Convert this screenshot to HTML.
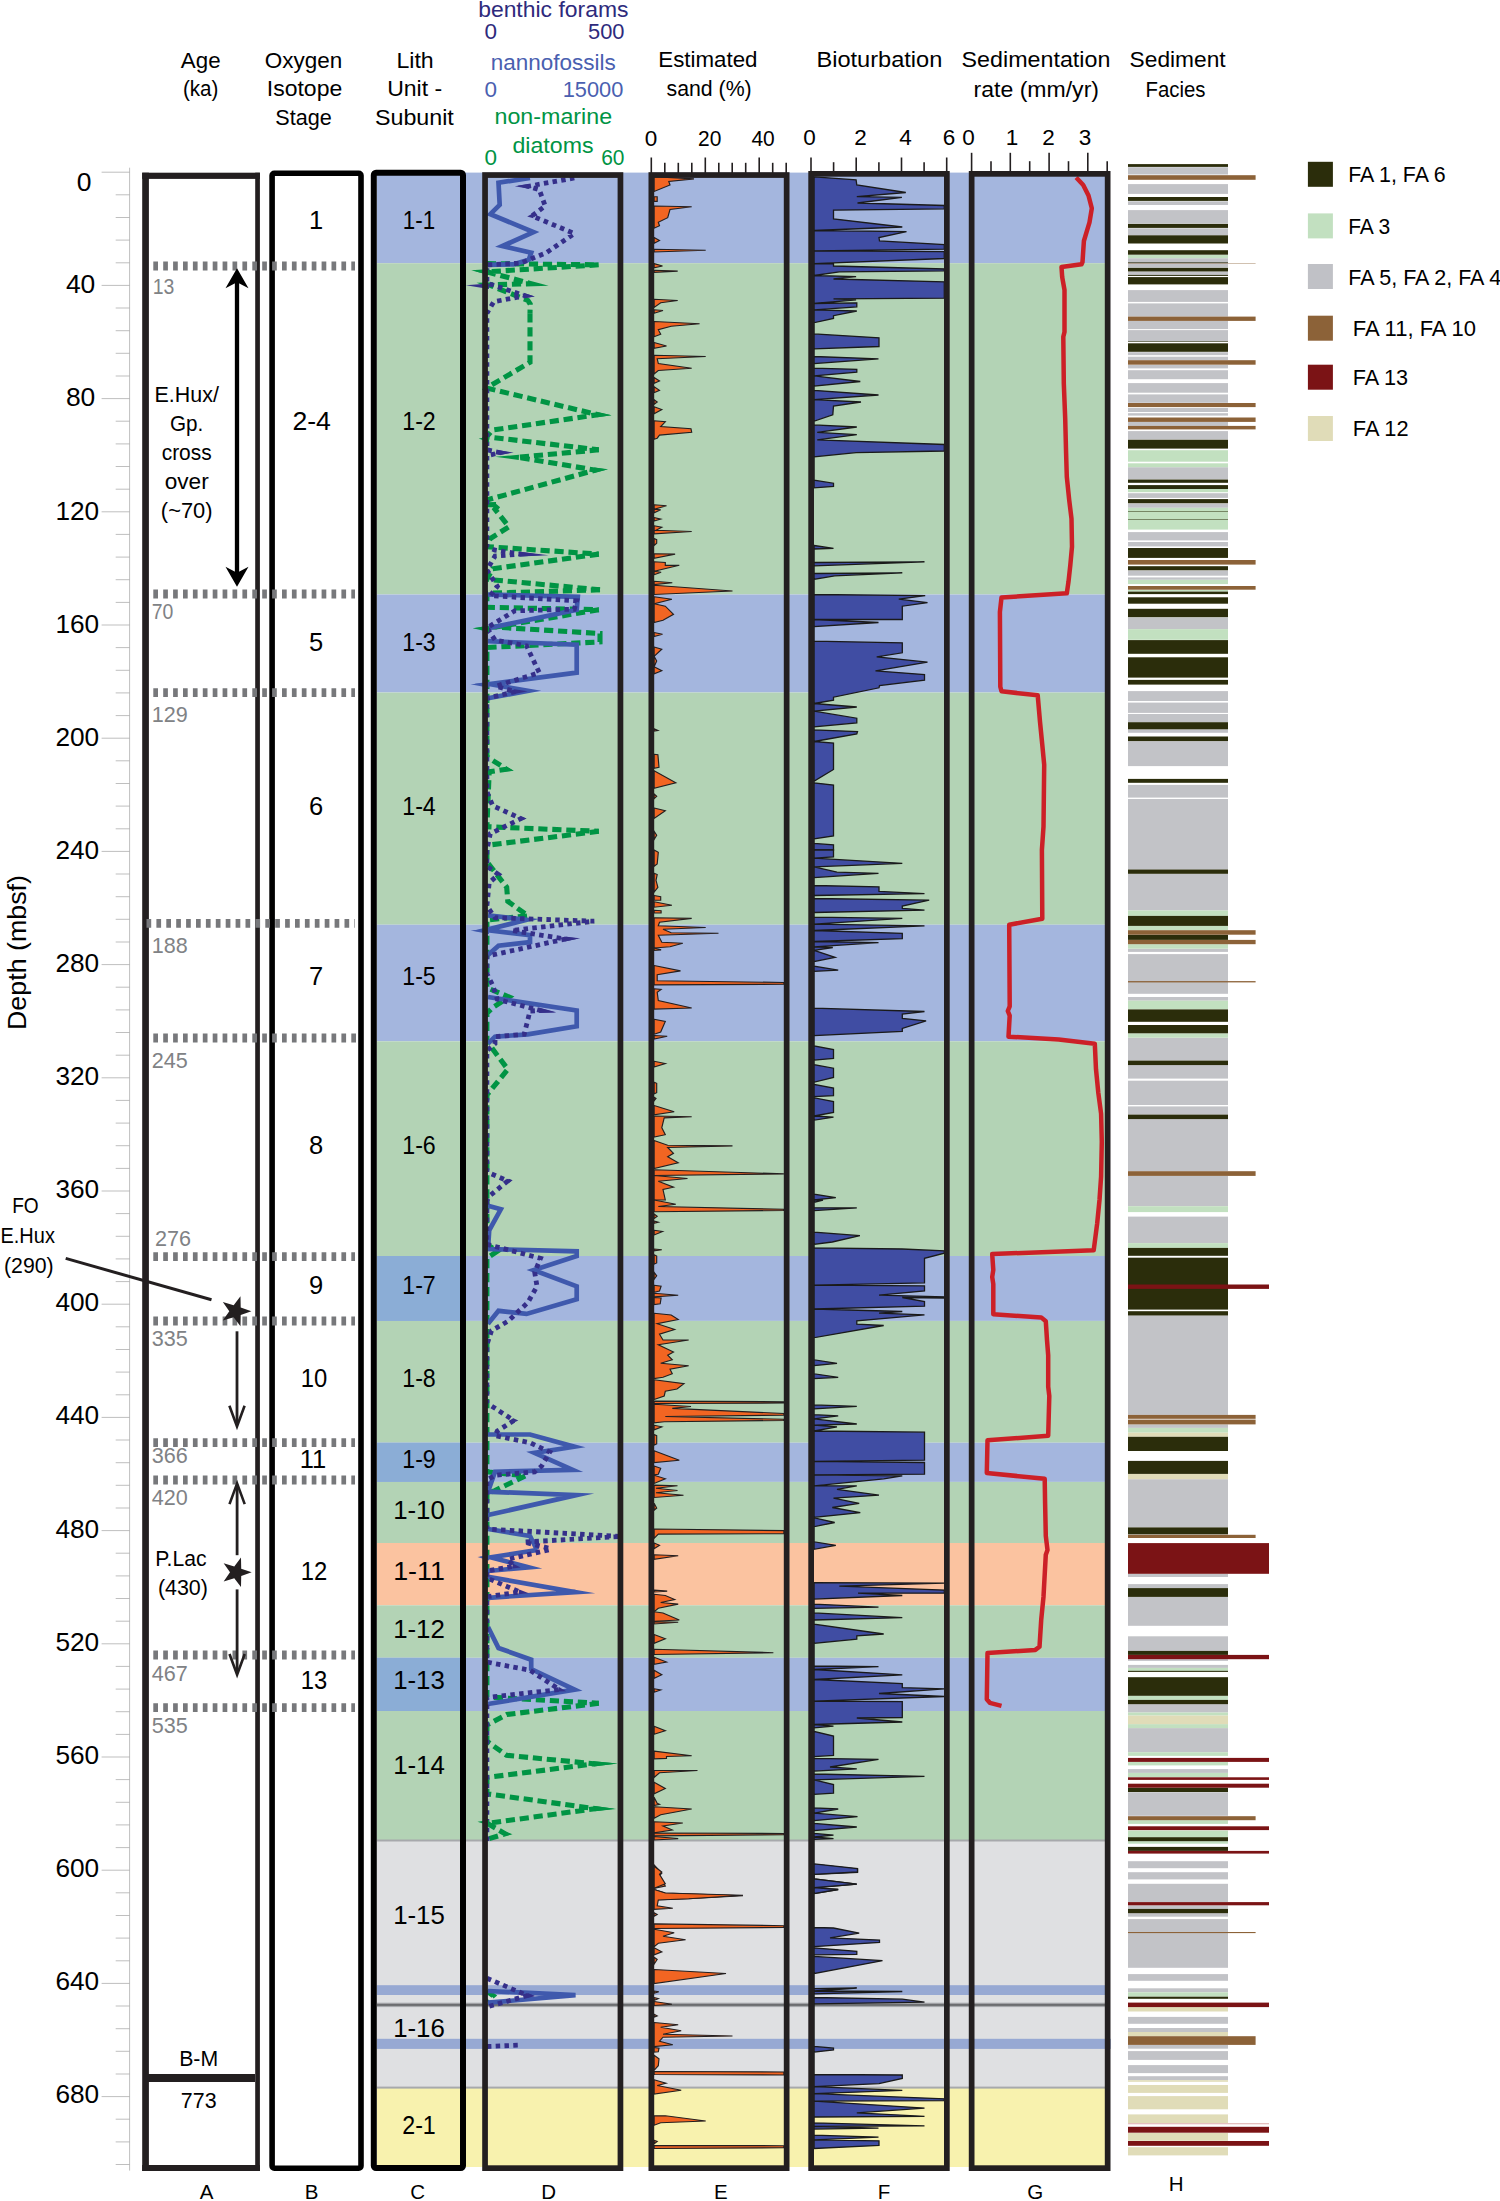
<!DOCTYPE html>
<html><head><meta charset="utf-8"><title>Stratigraphic summary</title>
<style>html,body{margin:0;padding:0;background:#fff}svg{display:block}</style></head>
<body>
<svg width="1500" height="2201" viewBox="0 0 1500 2201" font-family='"Liberation Sans", sans-serif'>
<rect width="1500" height="2201" fill="#fff"/>
<rect x="377" y="172.6" width="730.7" height="90.6" fill="#a4b6de"/>
<rect x="377" y="263.2" width="730.7" height="331.3" fill="#b3d3b5"/>
<rect x="377" y="594.5" width="730.7" height="98.0" fill="#a4b6de"/>
<rect x="377" y="692.5" width="730.7" height="232.2" fill="#b3d3b5"/>
<rect x="377" y="924.7" width="730.7" height="116.6" fill="#a4b6de"/>
<rect x="377" y="1041.3" width="730.7" height="214.7" fill="#b3d3b5"/>
<rect x="377" y="1256" width="730.7" height="64.9" fill="#a4b6de"/>
<rect x="377" y="1320.9" width="730.7" height="121.8" fill="#b3d3b5"/>
<rect x="377" y="1442.7" width="730.7" height="39.2" fill="#a4b6de"/>
<rect x="377" y="1481.9" width="730.7" height="61.1" fill="#b3d3b5"/>
<rect x="377" y="1543" width="730.7" height="62.3" fill="#fbc3a0"/>
<rect x="377" y="1605.3" width="730.7" height="52.5" fill="#b3d3b5"/>
<rect x="377" y="1657.8" width="730.7" height="53.2" fill="#a4b6de"/>
<rect x="377" y="1711" width="730.7" height="129" fill="#b3d3b5"/>
<rect x="377" y="1840" width="730.7" height="247.8" fill="#dfe0e2"/>
<rect x="377" y="2087.8" width="730.7" height="79.2" fill="#f8f2ae"/>
<rect x="377" y="1256" width="84" height="64.9" fill="#8badd6"/>
<rect x="377" y="1442.7" width="84" height="39.2" fill="#8badd6"/>
<rect x="377" y="1657.8" width="84" height="53.2" fill="#8badd6"/>
<rect x="377" y="1839.5" width="730.7" height="2" fill="#a7a9ac"/>
<rect x="377" y="1985.2" width="730.7" height="9.8" fill="#97a9d3"/>
<rect x="377" y="2038.8" width="733.7" height="10.1" fill="#97a9d3"/>
<rect x="377" y="2002.7" width="730.7" height="4.4" fill="#a7a9ac"/>
<rect x="377" y="2003.9" width="730.7" height="2" fill="#6d6e71"/>
<rect x="377" y="2086.6" width="730.7" height="2" fill="#a7a9ac"/>
<g stroke="#a3a3a3" stroke-width="0.7" fill="none">
<line x1="129.6" y1="167.7" x2="129.6" y2="2170.6"/>
<line x1="101.6" y1="172.2" x2="129.6" y2="172.2"/>
<line x1="115.7" y1="194.8" x2="129.6" y2="194.8"/>
<line x1="115.7" y1="217.5" x2="129.6" y2="217.5"/>
<line x1="115.7" y1="240.1" x2="129.6" y2="240.1"/>
<line x1="115.7" y1="262.8" x2="129.6" y2="262.8"/>
<line x1="101.6" y1="285.4" x2="129.6" y2="285.4"/>
<line x1="115.7" y1="308.0" x2="129.6" y2="308.0"/>
<line x1="115.7" y1="330.7" x2="129.6" y2="330.7"/>
<line x1="115.7" y1="353.3" x2="129.6" y2="353.3"/>
<line x1="115.7" y1="376.0" x2="129.6" y2="376.0"/>
<line x1="101.6" y1="398.6" x2="129.6" y2="398.6"/>
<line x1="115.7" y1="421.2" x2="129.6" y2="421.2"/>
<line x1="115.7" y1="443.9" x2="129.6" y2="443.9"/>
<line x1="115.7" y1="466.5" x2="129.6" y2="466.5"/>
<line x1="115.7" y1="489.2" x2="129.6" y2="489.2"/>
<line x1="101.6" y1="511.8" x2="129.6" y2="511.8"/>
<line x1="115.7" y1="534.4" x2="129.6" y2="534.4"/>
<line x1="115.7" y1="557.1" x2="129.6" y2="557.1"/>
<line x1="115.7" y1="579.7" x2="129.6" y2="579.7"/>
<line x1="115.7" y1="602.4" x2="129.6" y2="602.4"/>
<line x1="101.6" y1="625.0" x2="129.6" y2="625.0"/>
<line x1="115.7" y1="647.6" x2="129.6" y2="647.6"/>
<line x1="115.7" y1="670.3" x2="129.6" y2="670.3"/>
<line x1="115.7" y1="692.9" x2="129.6" y2="692.9"/>
<line x1="115.7" y1="715.6" x2="129.6" y2="715.6"/>
<line x1="101.6" y1="738.2" x2="129.6" y2="738.2"/>
<line x1="115.7" y1="760.8" x2="129.6" y2="760.8"/>
<line x1="115.7" y1="783.5" x2="129.6" y2="783.5"/>
<line x1="115.7" y1="806.1" x2="129.6" y2="806.1"/>
<line x1="115.7" y1="828.8" x2="129.6" y2="828.8"/>
<line x1="101.6" y1="851.4" x2="129.6" y2="851.4"/>
<line x1="115.7" y1="874.0" x2="129.6" y2="874.0"/>
<line x1="115.7" y1="896.7" x2="129.6" y2="896.7"/>
<line x1="115.7" y1="919.3" x2="129.6" y2="919.3"/>
<line x1="115.7" y1="942.0" x2="129.6" y2="942.0"/>
<line x1="101.6" y1="964.6" x2="129.6" y2="964.6"/>
<line x1="115.7" y1="987.2" x2="129.6" y2="987.2"/>
<line x1="115.7" y1="1009.9" x2="129.6" y2="1009.9"/>
<line x1="115.7" y1="1032.5" x2="129.6" y2="1032.5"/>
<line x1="115.7" y1="1055.2" x2="129.6" y2="1055.2"/>
<line x1="101.6" y1="1077.8" x2="129.6" y2="1077.8"/>
<line x1="115.7" y1="1100.4" x2="129.6" y2="1100.4"/>
<line x1="115.7" y1="1123.1" x2="129.6" y2="1123.1"/>
<line x1="115.7" y1="1145.7" x2="129.6" y2="1145.7"/>
<line x1="115.7" y1="1168.4" x2="129.6" y2="1168.4"/>
<line x1="101.6" y1="1191.0" x2="129.6" y2="1191.0"/>
<line x1="115.7" y1="1213.6" x2="129.6" y2="1213.6"/>
<line x1="115.7" y1="1236.3" x2="129.6" y2="1236.3"/>
<line x1="115.7" y1="1258.9" x2="129.6" y2="1258.9"/>
<line x1="115.7" y1="1281.6" x2="129.6" y2="1281.6"/>
<line x1="101.6" y1="1304.2" x2="129.6" y2="1304.2"/>
<line x1="115.7" y1="1326.8" x2="129.6" y2="1326.8"/>
<line x1="115.7" y1="1349.5" x2="129.6" y2="1349.5"/>
<line x1="115.7" y1="1372.1" x2="129.6" y2="1372.1"/>
<line x1="115.7" y1="1394.8" x2="129.6" y2="1394.8"/>
<line x1="101.6" y1="1417.4" x2="129.6" y2="1417.4"/>
<line x1="115.7" y1="1440.0" x2="129.6" y2="1440.0"/>
<line x1="115.7" y1="1462.7" x2="129.6" y2="1462.7"/>
<line x1="115.7" y1="1485.3" x2="129.6" y2="1485.3"/>
<line x1="115.7" y1="1508.0" x2="129.6" y2="1508.0"/>
<line x1="101.6" y1="1530.6" x2="129.6" y2="1530.6"/>
<line x1="115.7" y1="1553.2" x2="129.6" y2="1553.2"/>
<line x1="115.7" y1="1575.9" x2="129.6" y2="1575.9"/>
<line x1="115.7" y1="1598.5" x2="129.6" y2="1598.5"/>
<line x1="115.7" y1="1621.2" x2="129.6" y2="1621.2"/>
<line x1="101.6" y1="1643.8" x2="129.6" y2="1643.8"/>
<line x1="115.7" y1="1666.4" x2="129.6" y2="1666.4"/>
<line x1="115.7" y1="1689.1" x2="129.6" y2="1689.1"/>
<line x1="115.7" y1="1711.7" x2="129.6" y2="1711.7"/>
<line x1="115.7" y1="1734.4" x2="129.6" y2="1734.4"/>
<line x1="101.6" y1="1757.0" x2="129.6" y2="1757.0"/>
<line x1="115.7" y1="1779.6" x2="129.6" y2="1779.6"/>
<line x1="115.7" y1="1802.3" x2="129.6" y2="1802.3"/>
<line x1="115.7" y1="1824.9" x2="129.6" y2="1824.9"/>
<line x1="115.7" y1="1847.6" x2="129.6" y2="1847.6"/>
<line x1="101.6" y1="1870.2" x2="129.6" y2="1870.2"/>
<line x1="115.7" y1="1892.8" x2="129.6" y2="1892.8"/>
<line x1="115.7" y1="1915.5" x2="129.6" y2="1915.5"/>
<line x1="115.7" y1="1938.1" x2="129.6" y2="1938.1"/>
<line x1="115.7" y1="1960.8" x2="129.6" y2="1960.8"/>
<line x1="101.6" y1="1983.4" x2="129.6" y2="1983.4"/>
<line x1="115.7" y1="2006.0" x2="129.6" y2="2006.0"/>
<line x1="115.7" y1="2028.7" x2="129.6" y2="2028.7"/>
<line x1="115.7" y1="2051.3" x2="129.6" y2="2051.3"/>
<line x1="115.7" y1="2074.0" x2="129.6" y2="2074.0"/>
<line x1="101.6" y1="2096.6" x2="129.6" y2="2096.6"/>
<line x1="115.7" y1="2119.2" x2="129.6" y2="2119.2"/>
<line x1="115.7" y1="2141.9" x2="129.6" y2="2141.9"/>
<line x1="115.7" y1="2164.5" x2="129.6" y2="2164.5"/>
</g>
<text x="91.5" y="191" font-size="26.5" text-anchor="end" fill="#000" >0</text>
<text x="95.3" y="293.3" font-size="26.5" text-anchor="end" fill="#000" textLength="29.4" lengthAdjust="spacingAndGlyphs" >40</text>
<text x="95.3" y="406.4" font-size="26.5" text-anchor="end" fill="#000" textLength="29.4" lengthAdjust="spacingAndGlyphs" >80</text>
<text x="99.2" y="519.5" font-size="26.5" text-anchor="end" fill="#000" textLength="43.8" lengthAdjust="spacingAndGlyphs" >120</text>
<text x="99.2" y="632.6" font-size="26.5" text-anchor="end" fill="#000" textLength="43.8" lengthAdjust="spacingAndGlyphs" >160</text>
<text x="99.2" y="745.8" font-size="26.5" text-anchor="end" fill="#000" textLength="43.8" lengthAdjust="spacingAndGlyphs" >200</text>
<text x="99.2" y="858.9" font-size="26.5" text-anchor="end" fill="#000" textLength="43.8" lengthAdjust="spacingAndGlyphs" >240</text>
<text x="99.2" y="972.0" font-size="26.5" text-anchor="end" fill="#000" textLength="43.8" lengthAdjust="spacingAndGlyphs" >280</text>
<text x="99.2" y="1085.1" font-size="26.5" text-anchor="end" fill="#000" textLength="43.8" lengthAdjust="spacingAndGlyphs" >320</text>
<text x="99.2" y="1198.2" font-size="26.5" text-anchor="end" fill="#000" textLength="43.8" lengthAdjust="spacingAndGlyphs" >360</text>
<text x="99.2" y="1311.3" font-size="26.5" text-anchor="end" fill="#000" textLength="43.8" lengthAdjust="spacingAndGlyphs" >400</text>
<text x="99.2" y="1424.4" font-size="26.5" text-anchor="end" fill="#000" textLength="43.8" lengthAdjust="spacingAndGlyphs" >440</text>
<text x="99.2" y="1537.5" font-size="26.5" text-anchor="end" fill="#000" textLength="43.8" lengthAdjust="spacingAndGlyphs" >480</text>
<text x="99.2" y="1650.7" font-size="26.5" text-anchor="end" fill="#000" textLength="43.8" lengthAdjust="spacingAndGlyphs" >520</text>
<text x="99.2" y="1763.8" font-size="26.5" text-anchor="end" fill="#000" textLength="43.8" lengthAdjust="spacingAndGlyphs" >560</text>
<text x="99.2" y="1876.9" font-size="26.5" text-anchor="end" fill="#000" textLength="43.8" lengthAdjust="spacingAndGlyphs" >600</text>
<text x="99.2" y="1990.0" font-size="26.5" text-anchor="end" fill="#000" textLength="43.8" lengthAdjust="spacingAndGlyphs" >640</text>
<text x="99.2" y="2103.1" font-size="26.5" text-anchor="end" fill="#000" textLength="43.8" lengthAdjust="spacingAndGlyphs" >680</text>
<text transform="translate(25.5,1030) rotate(-90)" font-size="26.5" textLength="155" lengthAdjust="spacingAndGlyphs">Depth (mbsf)</text>
<g fill="none" stroke-linejoin="miter" stroke-miterlimit="12">
<polyline points="530.0,313.3 530.0,362.3 490.3,385.7 487.3,388.2 597.8,414.7 492.7,430.0 486.5,436.8 598.8,449.8" stroke="#009444" stroke-width="5.1" stroke-dasharray="9.2 4.8"/>
<polyline points="598.8,449.8 517.9,457.3 595.4,470.1 486.9,500.0" stroke="#009444" stroke-width="5.1" stroke-dasharray="9.2 4.8"/>
<polyline points="486.9,504.7 499.3,504.4 495.0,509.3 509.0,526.8 490.3,538.5 486.9,546.7 598.8,554.1" stroke="#009444" stroke-width="5.1" stroke-dasharray="9.2 4.8"/>
<polyline points="598.8,554.1 492.7,568.8 486.9,579.3 600.0,589.8" stroke="#009444" stroke-width="5.1" stroke-dasharray="9.2 4.8"/>
<polyline points="600.0,589.8 486.9,593.3 486.9,607.3 598.8,609.7" stroke="#009444" stroke-width="5.1" stroke-dasharray="9.2 4.8"/>
<polyline points="598.8,609.7 495.2,627.1 600.0,633.5 600.0,641.9 486.9,647.5 486.9,756.7 506.5,769.2 489.2,771.8 486.9,826.7 598.8,831.3" stroke="#009444" stroke-width="5.1" stroke-dasharray="9.2 4.8"/>
<polyline points="598.8,831.3 486.9,845.3" stroke="#009444" stroke-width="5.1" stroke-dasharray="9.2 4.8"/>
<polyline points="486.9,850.0 486.9,861.7 506.7,887.3 507.8,901.3 528.0,915.9 486.9,920.0 486.9,987.7 509.0,997.0 492.7,1007.5 486.9,1013.3 486.9,1041.3 507.8,1069.3 486.9,1095.0 486.9,1200.0" stroke="#009444" stroke-width="5.1" stroke-dasharray="9.2 4.8"/>
<polyline points="486.9,1200.0 486.9,1244.3 497.3,1251.3 486.9,1258.3 486.9,1471.8 525.5,1475.8 495.0,1490.5 486.9,1494.0 486.9,1550.0" stroke="#009444" stroke-width="5.1" stroke-dasharray="9.2 4.8"/>
<polyline points="486.9,1550.0 486.9,1697.0 598.8,1703.3" stroke="#009444" stroke-width="5.1" stroke-dasharray="9.2 4.8"/>
<polyline points="598.8,1703.3 506.7,1714.5 486.9,1725.0 486.9,1741.3 506.7,1755.3 594.6,1763.8 486.9,1777.5 486.9,1793.8 595.6,1808.7 487.3,1823.3 505.1,1833.8 486.9,1839.3" stroke="#009444" stroke-width="5.1" stroke-dasharray="9.2 4.8"/>
<polyline points="486.9,1991.0 493.1,1995.7 486.9,2000.8" stroke="#009444" stroke-width="5.1" stroke-dasharray="9.2 4.8"/>
<polyline points="486.9,263.6 598.8,264.8 486.9,271.8 531.2,283.7 488.9,284.9 527.9,300.5 530.2,304.0 530.0,313.3" stroke="#009444" stroke-width="5.1" stroke-dasharray="9.2 4.8"/>
<polyline points="530.0,178.0 498.5,182.7 499.7,204.8 490.3,214.2 533.5,232.1 502.4,246.1 531.2,252.7 528.8,259.7 513.7,264.3 488.0,264.8" stroke="#3f59ad" stroke-width="4.7"/>
<polyline points="488.0,594.5 577.8,596.8 576.7,609.7 488.0,628.3" stroke="#3f59ad" stroke-width="4.7"/>
<polyline points="488.0,641.2 576.7,644.7 576.7,672.7 490.0,684.1 528.1,690.8 488.0,698.3" stroke="#3f59ad" stroke-width="4.7"/>
<polyline points="488.0,915.3 526.2,919.9 485.9,930.0 530.0,935.2 530.0,942.2 498.5,945.7 488.0,955.0" stroke="#3f59ad" stroke-width="4.7"/>
<polyline points="488.0,997.0 576.7,1010.5 576.7,1026.2 527.7,1034.3 495.0,1036.7 488.0,1043.7" stroke="#3f59ad" stroke-width="4.7"/>
<polyline points="488.0,1205.8 500.8,1209.3 489.2,1230.3 488.0,1249.0 576.7,1251.3 576.7,1256.0 533.6,1270.1 576.7,1286.3 576.7,1299.2 526.5,1313.9 498.5,1310.8 488.0,1323.7" stroke="#3f59ad" stroke-width="4.7"/>
<polyline points="488.0,1434.5 530.0,1434.5 574.3,1446.7 534.5,1452.9 572.7,1469.8 495.0,1471.8 488.0,1491.7 576.2,1495.1 488.0,1515.0" stroke="#3f59ad" stroke-width="4.7"/>
<polyline points="488.0,1529.0 530.0,1536.0 537.0,1550.0" stroke="#3f59ad" stroke-width="4.7"/>
<polyline points="537.0,1550.0 490.8,1557.3 528.8,1567.3 488.0,1571.0" stroke="#3f59ad" stroke-width="4.7"/>
<polyline points="488.0,1576.8 575.5,1592.1 488.0,1597.8" stroke="#3f59ad" stroke-width="4.7"/>
<polyline points="488.0,1627.0 498.5,1648.0 531.2,1659.7 531.2,1669.0 574.7,1689.6 488.0,1704.0" stroke="#3f59ad" stroke-width="4.7"/>
<polyline points="488.0,1991.0 575.5,1995.2 488.0,2002.7" stroke="#3f59ad" stroke-width="4.7"/>
<polyline points="574.3,178.0 527.9,186.3 539.3,189.7 545.2,206.0 532.0,215.9 574.3,233.5 546.3,252.7 520.7,263.2 486.9,264.8 486.9,283.0 525.2,295.8 493.8,301.7 486.9,313.3 486.9,449.8 499.9,452.7 486.9,455.7 486.9,500.0" stroke="#352f8a" stroke-width="4.8" stroke-dasharray="4.5 4.3"/>
<polyline points="486.9,500.0 486.9,546.7 495.0,550.2 520.7,554.2 495.0,556.0 486.9,570.0 497.3,586.3 490.3,595.7 576.7,600.8 574.3,609.2 514.8,610.8 486.9,627.9 495.0,640.0 526.5,645.8 539.3,672.7 502.0,684.3 496.1,686.3 515.5,691.7 486.9,698.3 486.9,791.7 492.7,805.7 520.9,818.6 490.3,833.7 486.9,850.0" stroke="#352f8a" stroke-width="4.8" stroke-dasharray="4.5 4.3"/>
<polyline points="486.9,850.0 486.9,866.3 498.5,874.5 489.2,882.7 486.9,906.0 495.0,917.7 594.2,921.2 511.8,930.5 565.5,939.0 486.9,956.2 486.9,973.7 492.7,985.3 497.3,999.3 540.4,1010.5 530.0,1011.0 524.2,1034.3 495.0,1036.7 495.0,1043.7 486.9,1050.7 486.9,1172.0 507.9,1180.9 490.3,1195.3 486.9,1200.0" stroke="#352f8a" stroke-width="4.8" stroke-dasharray="4.5 4.3"/>
<polyline points="486.9,1200.0 486.9,1244.3 540.5,1258.3 534.7,1272.3 537.0,1286.3 527.7,1302.7 507.8,1321.3 491.5,1330.7 486.9,1344.7 486.9,1403.0 513.9,1420.5 497.3,1431.0 495.0,1435.7 530.0,1442.7 549.8,1452.0 541.7,1466.0 534.7,1471.8 495.0,1475.3 486.9,1480.0 486.9,1529.0 621.0,1536.5 524.1,1542.1 548.7,1548.1" stroke="#352f8a" stroke-width="4.8" stroke-dasharray="4.5 4.3"/>
<polyline points="548.7,1550.0 508.0,1559.2 513.7,1566.3 486.9,1571.0 486.9,1578.0 519.9,1592.0 486.9,1596.7 486.9,1662.0 492.7,1663.2 530.0,1670.2 559.3,1689.5 486.9,1697.5 486.9,1844.0" stroke="#352f8a" stroke-width="4.8" stroke-dasharray="4.5 4.3"/>
<polyline points="486.9,1978.2 527.5,1995.6 486.9,2006.9" stroke="#352f8a" stroke-width="4.8" stroke-dasharray="4.5 4.3"/>
<polyline points="486.9,2046.5 520.7,2045.1" stroke="#352f8a" stroke-width="4.8" stroke-dasharray="4.5 4.3"/>
</g>
<polygon points="611.7,415.3 596.9,412.1 596.7,417.2" fill="#009444"/>
<polygon points="495.0,456.8 518.8,459.9 519.0,454.8" fill="#009444"/>
<polygon points="608.2,469.2 594.2,467.6 594.6,472.7" fill="#009444"/>
<polygon points="513.7,770.7 506.1,766.5 505.0,771.5" fill="#009444"/>
<polygon points="617.5,1763.5 593.6,1761.3 593.6,1766.4" fill="#009444"/>
<polygon points="616.3,1809.0 594.6,1806.1 594.6,1811.2" fill="#009444"/>
<polygon points="512.5,1834.2 504.3,1831.2 504.0,1836.3" fill="#009444"/>
<polygon points="514.8,186.2 528.9,188.7 528.9,183.9" fill="#352f8a"/>
<polygon points="527.2,216.5 533.3,218.2 532.7,213.4" fill="#352f8a"/>
<polygon points="534.7,296.5 524.4,293.3 524.0,298.1" fill="#352f8a"/>
<polygon points="513.7,452.6 498.9,450.3 498.9,455.1" fill="#352f8a"/>
<polygon points="548.7,555.3 519.8,551.8 519.6,556.6" fill="#352f8a"/>
<polygon points="527.7,691.3 514.4,689.3 514.6,694.1" fill="#352f8a"/>
<polygon points="526.5,818.5 519.9,816.2 519.9,821.0" fill="#352f8a"/>
<polygon points="580.2,938.2 564.4,936.7 564.6,941.4" fill="#352f8a"/>
<polygon points="555.7,1012.6 539.7,1008.0 539.1,1012.7" fill="#352f8a"/>
<polygon points="512.5,1180.2 506.6,1178.7 507.3,1183.4" fill="#352f8a"/>
<polygon points="518.3,1420.5 512.9,1418.1 512.9,1422.9" fill="#352f8a"/>
<polygon points="520.7,1567.5 513.1,1563.8 512.3,1568.5" fill="#352f8a"/>
<polygon points="528.8,1593.2 519.2,1589.5 518.6,1594.2" fill="#352f8a"/>
<polygon points="566.2,1691.2 558.9,1686.9 557.8,1691.6" fill="#352f8a"/>
<polygon points="534.7,1996.1 526.7,1993.1 526.3,1997.9" fill="#352f8a"/>
<polygon points="475.2,271.3 489,269.6 489,275.1" fill="#009444"/>
<polygon points="465.8,285.3 489,283.6 489,288.9" fill="#352f8a"/>
<polygon points="478.7,438.6 489,436.9 489,442.4" fill="#009444"/>
<polygon points="472.8,628.3 489,626.5 489,632.0" fill="#009444"/>
<polygon points="470.5,684.3 489,682.7 489,687.8" fill="#3f59ad"/>
<polygon points="470.5,930.5 489,928.9 489,934.0" fill="#3f59ad"/>
<polygon points="477.5,1557.0 489,1555.4 489,1560.5" fill="#3f59ad"/>
<polygon points="477.5,1821.8 489,1820.0 489,1825.5" fill="#009444"/>
<g fill="#f26522" stroke="#231f20" stroke-width="1.15" stroke-linejoin="miter">
<polygon points="654.1,176.8 694.0,178.9 668.8,181.5 670.0,185.0 654.1,191.5"/>
<polygon points="654.1,196.7 657.2,196.7 657.2,201.3 654.1,201.3"/>
<polygon points="654.1,206.0 691.7,206.7 670.0,209.5 667.7,217.7 658.3,222.3 659.5,225.8 654.1,228.2"/>
<polygon points="654.1,237.5 659.5,240.5 654.1,243.3"/>
<polygon points="654.1,249.2 705.7,250.3 654.1,252.0"/>
<polygon points="654.1,263.6 662.5,266.0 654.1,267.8"/>
<polygon points="654.1,270.2 677.7,271.1 654.1,272.3"/>
<polygon points="654.1,299.3 677.7,300.5 660.7,302.8 654.1,307.5"/>
<polygon points="654.1,309.8 663.0,310.5 654.1,313.3"/>
<polygon points="654.1,321.5 699.6,323.8 671.2,326.2 658.3,329.7 660.7,334.3 654.1,336.7"/>
<polygon points="654.1,342.5 666.5,346.0 654.1,348.3"/>
<polygon points="654.1,355.3 705.7,356.5 657.2,358.8 658.3,363.5 691.7,368.2 658.3,370.5 654.1,374.0"/>
<polygon points="654.1,377.5 659.5,381.0 654.1,383.3"/>
<polygon points="654.1,386.8 659.5,390.3 654.1,392.7"/>
<polygon points="654.1,399.7 657.2,402.0 654.1,404.3"/>
<polygon points="654.1,406.7 661.8,409.5 654.1,413.7"/>
<polygon points="654.1,420.7 665.3,421.8 660.7,426.5 691.0,428.8 691.7,432.3 659.5,435.1 657.2,438.2 654.1,439.3"/>
<polygon points="654.1,504.7 666.5,505.8 654.1,509.3"/>
<polygon points="654.1,509.3 660.7,509.8 654.1,512.8"/>
<polygon points="654.1,517.5 660.7,519.1 654.1,521.0"/>
<polygon points="654.1,525.7 661.8,527.3 656.0,530.3 691.7,531.5 654.1,533.8"/>
<polygon points="654.1,538.5 656.7,539.7 656.7,543.2 654.1,545.5"/>
<polygon points="654.1,553.7 675.1,554.1 654.1,558.3"/>
<polygon points="654.1,561.8 665.3,562.5 665.3,565.3 679.3,565.3 654.1,571.2"/>
<polygon points="654.1,571.2 661.1,572.3 654.1,574.7"/>
<polygon points="654.1,581.2 672.3,582.8 654.1,584.5"/>
<polygon points="654.1,585.2 732.5,591.0 654.1,594.5"/>
<polygon points="654.1,596.8 671.9,599.2 654.1,603.8"/>
<polygon points="654.1,603.8 665.3,606.2 673.5,614.3 663.0,620.2 654.1,622.5"/>
<polygon points="654.1,632.5 662.5,634.2 654.1,636.5"/>
<polygon points="654.1,647.0 661.8,649.3 654.1,656.3 656.7,661.0 654.1,666.8"/>
<polygon points="654.1,666.8 661.8,670.8 654.1,673.8"/>
<polygon points="654.1,728.7 657.9,730.5 654.1,731.0"/>
<polygon points="654.1,754.3 657.9,754.8 659.0,767.2 654.1,768.3"/>
<polygon points="654.1,770.7 675.8,782.8 654.1,788.2"/>
<polygon points="654.1,794.0 656.7,796.3 654.1,798.7"/>
<polygon points="654.1,808.0 665.3,810.8 654.1,818.5"/>
<polygon points="654.1,831.3 656.7,835.3 654.1,839.5"/>
<polygon points="654.1,850.0 658.3,852.3 657.2,864.0 654.1,866.3"/>
<polygon points="654.1,873.3 657.2,874.5 656.0,880.3 657.9,887.3 654.1,892.0"/>
<polygon points="654.1,895.5 660.7,896.7 660.7,900.2 654.1,900.2"/>
<polygon points="654.1,901.8 671.9,905.3 654.1,907.2"/>
<polygon points="654.1,910.2 661.1,910.7 661.1,913.0 654.1,913.0"/>
<polygon points="654.1,917.7 691.7,918.4 659.5,922.3 658.3,925.8 705.7,927.5 663.0,929.3 671.2,932.8 718.5,933.3 658.3,935.2 661.8,942.2 682.8,943.3 670.0,946.8 654.1,948.0"/>
<polygon points="654.1,948.0 661.1,949.9 654.1,950.3"/>
<polygon points="654.1,965.5 680.5,970.9 657.2,974.8 657.2,980.7 783.9,982.5 783.9,984.2 654.1,984.9"/>
<polygon points="654.1,988.8 661.1,989.5 657.2,992.3 658.3,1000.5 691.7,1008.0 654.1,1009.1"/>
<polygon points="654.1,1019.2 665.3,1021.5 660.7,1032.0 654.1,1034.3"/>
<polygon points="654.1,1035.5 667.2,1036.2 654.1,1039.0"/>
<polygon points="654.1,1061.2 665.3,1063.5 654.1,1067.0"/>
<polygon points="654.1,1082.2 656.7,1083.3 656.7,1092.7 654.1,1093.8"/>
<polygon points="654.1,1097.3 656.0,1098.5 654.1,1100.8"/>
<polygon points="654.1,1105.5 674.2,1111.8 654.1,1114.8"/>
<polygon points="654.1,1116.0 691.7,1116.7 664.2,1117.9 661.8,1127.7 665.3,1134.7 654.1,1137.0"/>
<polygon points="654.1,1140.5 667.7,1145.2 732.5,1145.9 667.7,1147.5 673.5,1153.3 667.7,1156.8 678.2,1162.7 654.1,1168.5"/>
<polygon points="654.1,1169.7 783.9,1173.9 654.1,1175.5"/>
<polygon points="654.1,1175.5 687.5,1178.5 658.3,1181.3 673.5,1187.2 663.0,1189.5 665.3,1200.0 654.1,1200.0"/>
<polygon points="654.1,1200.0 675.8,1204.2 658.3,1206.5 783.9,1209.3 783.9,1210.5 654.1,1211.7"/>
<polygon points="654.1,1214.0 657.2,1216.3 654.1,1218.7"/>
<polygon points="654.1,1221.0 658.3,1222.2 654.1,1223.3"/>
<polygon points="654.1,1230.3 662.5,1231.5 654.1,1235.0"/>
<polygon points="654.1,1249.0 661.8,1249.7 654.1,1250.9"/>
<polygon points="654.1,1254.8 656.7,1256.0 656.7,1263.0 654.1,1264.2"/>
<polygon points="654.1,1272.3 656.7,1275.8 654.1,1279.3"/>
<polygon points="654.1,1285.2 661.1,1286.3 659.5,1291.0 654.1,1292.2"/>
<polygon points="654.1,1293.3 678.2,1295.2 654.1,1296.8"/>
<polygon points="654.1,1297.5 661.1,1298.0 660.2,1303.8 654.1,1304.5"/>
<polygon points="654.1,1313.2 671.2,1315.0 678.2,1319.5 657.2,1323.7 674.7,1329.5 659.5,1334.2 663.0,1340.0 688.7,1340.0 658.3,1344.7 673.5,1352.1 667.7,1355.2 672.3,1359.8 660.7,1363.3 688.7,1365.7 670.0,1369.2 672.3,1373.8 663.0,1377.3 654.1,1378.5"/>
<polygon points="654.1,1379.7 684.0,1383.6 677.0,1389.0 665.3,1391.3 664.2,1396.0 654.1,1399.5"/>
<polygon points="654.1,1401.1 783.9,1401.8 783.9,1403.0 654.1,1403.5"/>
<polygon points="654.1,1404.2 691.0,1406.5 672.3,1408.4 783.9,1413.5 783.9,1415.1 665.3,1416.5 783.9,1419.3 783.9,1420.5 664.2,1421.7 654.1,1422.8"/>
<polygon points="654.1,1425.2 661.8,1426.8 654.1,1429.8"/>
<polygon points="654.1,1434.5 656.7,1435.7 656.7,1443.8 654.1,1445.0"/>
<polygon points="654.1,1450.8 679.3,1460.2 654.1,1462.5"/>
<polygon points="654.1,1466.0 660.7,1468.3 658.3,1474.2 654.1,1474.9"/>
<polygon points="654.1,1475.3 665.3,1478.8 654.1,1483.5"/>
<polygon points="654.1,1485.1 677.5,1485.8 656.0,1488.2 677.5,1490.5 656.0,1492.8 683.5,1495.2 654.1,1497.5"/>
<polygon points="654.1,1503.3 656.7,1508.0 654.1,1510.3"/>
<polygon points="654.1,1529.0 783.9,1530.6 783.9,1533.7 658.3,1534.1 654.1,1538.3"/>
<polygon points="654.1,1543.0 659.5,1545.3 654.1,1548.8"/>
<polygon points="654.1,1554.7 678.2,1555.8 654.1,1559.3"/>
<polygon points="654.1,1590.1 667.2,1591.1 654.1,1592.0"/>
<polygon points="654.1,1594.3 665.3,1595.5 674.7,1599.5 660.7,1602.5 678.2,1604.1 658.3,1608.3 654.1,1611.8"/>
<polygon points="654.1,1611.8 663.0,1613.0 679.3,1620.0 654.1,1621.2"/>
<polygon points="654.1,1621.6 678.2,1622.3 654.1,1624.0"/>
<polygon points="654.1,1634.5 665.3,1638.7 654.1,1643.3"/>
<polygon points="654.1,1649.2 773.4,1652.7 654.1,1654.5"/>
<polygon points="654.1,1657.3 666.5,1662.0 654.1,1664.3"/>
<polygon points="654.1,1670.2 661.8,1674.8 654.1,1678.3"/>
<polygon points="654.1,1688.8 660.7,1690.0 654.1,1692.3"/>
<polygon points="654.1,1726.2 665.3,1730.8 654.1,1734.3"/>
<polygon points="654.1,1751.1 691.7,1755.8 666.5,1756.5 666.5,1758.4 654.1,1758.8"/>
<polygon points="654.1,1770.5 697.5,1770.5 659.5,1772.8 654.1,1777.5"/>
<polygon points="654.1,1782.2 665.3,1788.5 654.1,1793.8"/>
<polygon points="654.1,1797.3 657.2,1803.2 659.5,1804.3 654.1,1805.5"/>
<polygon points="654.1,1806.7 691.7,1809.0 660.7,1814.8 654.1,1818.3"/>
<polygon points="654.1,1821.8 682.8,1823.0 663.0,1826.0 672.3,1830.0 654.1,1832.8"/>
<polygon points="654.1,1833.0 783.9,1833.5 783.9,1834.7 654.1,1835.8"/>
<polygon points="654.1,1836.5 678.2,1838.6 654.1,1840.0"/>
<polygon points="654.1,1865.0 661.8,1873.2 659.5,1875.5 665.3,1886.0 654.1,1888.3"/>
<polygon points="654.1,1889.5 665.3,1893.0 743.0,1895.8 688.7,1898.8 654.1,1900.0"/>
<polygon points="654.1,1866.2 661.8,1872.0 659.5,1874.3 665.3,1883.7 654.1,1888.3"/>
<polygon points="654.1,1889.5 665.3,1893.0 743.0,1895.3 688.7,1898.8 658.3,1900.0 657.2,1905.8 672.8,1908.2 654.1,1909.3"/>
<polygon points="654.1,1912.8 657.2,1914.5 654.1,1916.3"/>
<polygon points="654.1,1923.8 783.9,1925.7 783.9,1927.5 654.1,1928.5"/>
<polygon points="654.1,1929.2 674.2,1932.7 663.0,1936.2 685.6,1939.7 658.3,1943.2 654.1,1946.7"/>
<polygon points="654.1,1947.8 661.8,1951.8 654.1,1954.8"/>
<polygon points="654.1,1957.2 657.2,1959.5 654.1,1964.2"/>
<polygon points="654.1,1969.5 726.0,1973.5 654.1,1983.5"/>
<polygon points="654.1,1991.0 658.8,1991.7 654.1,1993.3"/>
<polygon points="654.1,1997.5 658.3,1998.7 654.1,2000.3"/>
<polygon points="654.1,2001.5 671.9,2004.3 654.1,2005.5"/>
<polygon points="654.1,2014.3 657.2,2016.0 654.1,2017.1"/>
<polygon points="654.1,2022.5 678.2,2024.8 660.7,2027.2 681.2,2030.7 663.0,2034.2 732.5,2036.0 663.0,2037.2 659.5,2041.2 672.8,2044.7 654.1,2046.5"/>
<polygon points="654.1,2047.5 659.0,2048.2 658.3,2051.7 654.1,2052.1"/>
<polygon points="654.1,2055.2 659.0,2058.7 658.3,2065.7 654.1,2070.3"/>
<polygon points="654.1,2071.5 783.9,2072.0 783.9,2075.0 654.1,2074.5"/>
<polygon points="654.1,2079.7 666.0,2083.2 657.2,2085.5 681.2,2090.2 654.1,2094.1"/>
<polygon points="654.1,2115.8 665.3,2115.8 705.7,2121.0 660.7,2122.8 654.1,2125.2"/>
<polygon points="654.1,2140.3 657.2,2141.5 654.1,2143.8"/>
<polygon points="654.1,2145.5 783.9,2145.7 783.9,2147.8 654.1,2148.5"/>
</g>
<g fill="#404da3" stroke="#1a1a1a" stroke-width="1.3" stroke-linejoin="miter">
<polygon points="814.1,176.8 814.1,176.8 856.1,179.9 856.8,185.0 905.8,192.5 856.8,196.7 901.9,197.4 857.5,203.0 944.3,205.5 944.3,208.8 833.5,210.2 833.5,218.8 902.3,227.0 814.1,230.5 906.5,231.7 879.0,237.5 879.5,241.0 944.3,244.5 944.3,249.2 814.1,250.8 944.3,251.7 944.3,258.5 814.1,263.6 833.5,263.9 833.5,266.0 944.3,269.0 944.3,270.9 839.3,271.8 814.1,275.5 856.1,276.7 833.5,279.0 944.3,281.8 944.3,298.2 833.5,298.9 856.1,299.8 814.1,303.5 856.8,302.8 856.8,306.8 814.1,309.8 856.8,311.0 833.5,315.7 833.5,318.5 814.1,322.7 814.1,333.9 879.0,337.8 879.0,346.5 814.1,348.8 814.1,356.5 878.5,358.8 814.1,363.5 814.1,368.2 856.8,369.3 856.8,372.1 814.1,375.9 860.3,381.5 814.1,386.1 814.1,390.3 878.5,395.0 814.1,399.7 861.0,402.0 833.5,406.0 832.8,414.8 814.1,421.1 814.1,424.9 856.8,427.0 817.2,432.3 856.8,434.7 817.2,439.8 944.3,444.5 944.3,451.0 856.1,452.6 814.1,456.8 814.1,480.2 833.5,483.2 833.5,486.5 814.1,487.9 814.1,487.9"/>
<polygon points="814.1,545.5 814.1,545.5 833.5,548.3 814.1,549.0 814.1,562.5 924.5,561.8 814.1,565.8 814.1,573.5 902.3,572.8 834.7,575.8 814.1,579.3 814.1,594.5 925.2,595.7 898.8,599.2 927.5,602.7 902.3,606.2 902.3,619.5 814.1,619.5 878.5,622.5 814.1,626.5 814.1,641.2 902.3,642.8 902.3,652.8 876.7,656.8 927.5,662.2 875.5,670.8 924.5,674.5 924.5,680.1 879.5,685.5 879.0,687.8 833.5,697.2 833.5,700.2 814.1,703.5 856.8,707.0 814.1,711.2 856.8,718.2 856.8,722.8 814.1,726.8 814.1,729.8 857.5,731.5 856.8,734.0 814.1,741.5 833.5,743.1 833.5,769.5 814.1,781.2 814.1,782.8 833.5,785.1 833.5,836.0 814.1,838.8 814.1,843.5 833.5,844.9 833.5,850.0 814.1,850.0"/>
<polygon points="814.1,850.0 833.5,850.0 833.5,857.0 814.1,858.2 902.3,863.3 814.1,866.8 837.0,872.2 878.5,873.3 814.1,877.5 814.1,885.5 879.0,886.9 879.0,891.5 924.5,893.6 814.1,895.5 814.1,898.5 929.2,900.2 902.3,906.0 902.3,908.3 924.5,910.2 814.1,912.5 814.1,917.2 902.3,918.4 814.1,924.2 924.5,925.8 814.1,930.5 902.3,933.3 902.3,938.7 814.1,941.5 878.5,942.6 814.1,946.8 832.8,947.5 814.1,950.3 835.1,957.3 814.1,961.5 814.1,966.2 838.2,970.2 814.1,971.3 814.1,1008.2 924.5,1011.5 902.3,1014.0 902.3,1018.5 926.1,1020.8 902.3,1028.5 902.3,1031.5 814.1,1035.5 814.1,1046.0 833.5,1049.5 833.5,1058.4 814.1,1060.0 814.1,1064.7 833.5,1068.2 833.5,1077.5 814.1,1082.2 814.1,1084.5 833.5,1088.0 833.5,1095.7 814.1,1096.6 814.1,1097.8 833.5,1101.5 833.5,1112.5 814.1,1116.0 833.5,1117.2 814.1,1120.2 814.1,1194.2 835.8,1197.7 814.1,1200.0 814.1,1200.0"/>
<polygon points="814.1,1200.0 814.1,1200.0 823.0,1200.0 814.1,1202.3 814.1,1207.7 856.8,1207.9 814.1,1210.5 814.1,1232.2 859.9,1235.7 832.3,1242.0 814.1,1244.3 814.1,1247.8 902.3,1249.0 944.3,1250.9 944.3,1253.2 924.5,1258.3 924.5,1282.8 814.1,1285.2 924.5,1285.9 924.5,1291.0 879.0,1295.2 944.3,1296.8 944.3,1298.0 902.3,1297.5 924.5,1301.5 924.5,1306.2 814.1,1309.0 902.3,1311.5 879.0,1313.2 924.5,1314.8 856.8,1320.9 856.8,1324.1 883.7,1325.5 814.1,1337.7 814.1,1359.8 837.0,1363.3 814.1,1365.7 814.1,1373.8 838.2,1377.3 814.1,1378.5 814.1,1404.9 856.8,1406.3 814.1,1408.8 814.1,1414.7 838.2,1415.8 814.1,1418.9 856.8,1424.0 814.1,1425.2 837.0,1426.8 814.1,1431.0 814.1,1431.0 924.5,1432.2 924.5,1460.2 814.1,1461.3 924.5,1462.5 924.5,1474.2 814.1,1474.9 902.3,1475.8 883.7,1478.8 814.1,1485.8 856.8,1485.8 837.0,1489.3 879.0,1495.2 833.5,1498.2 859.2,1503.3 832.3,1507.5 860.3,1512.7 814.1,1517.3 814.1,1517.8 834.7,1522.5 814.1,1526.7 814.1,1541.8 835.8,1545.3 814.1,1549.3 814.1,1549.3"/>
<polygon points="814.1,1582.7 814.1,1582.7 944.3,1583.1 839.3,1586.2 944.3,1590.1 944.3,1593.2 858.0,1593.2 902.3,1595.5 814.1,1599.0 814.1,1604.1 878.5,1607.2 814.1,1608.3 814.1,1613.0 902.3,1617.7 814.1,1620.0 814.1,1624.2 883.7,1634.0 856.8,1635.9 856.8,1639.1 814.1,1643.3 814.1,1666.0 878.5,1666.7 814.1,1669.5 902.3,1674.8 814.1,1679.5 902.3,1683.5 902.3,1687.7 944.3,1688.8 879.0,1693.5 944.3,1696.5 814.1,1701.2 902.3,1701.7 902.3,1717.5 856.8,1718.0 902.3,1722.0 814.1,1724.5 833.5,1726.2 814.1,1727.8 814.1,1731.5 833.5,1736.0 833.5,1755.3 814.1,1756.5 814.1,1758.4 878.5,1759.3 830.0,1767.0 856.8,1768.9 814.1,1771.0 814.1,1774.0 924.5,1776.3 814.1,1779.8 833.5,1784.5 833.5,1793.1 814.1,1794.3 814.1,1807.8 838.2,1809.0 814.1,1813.2 857.5,1816.7 814.1,1820.7 814.1,1823.5 856.8,1827.0 814.1,1830.5 814.1,1833.5 833.5,1835.1 814.1,1837.0 833.5,1838.6 814.1,1839.3 814.1,1864.5 857.5,1869.0 857.5,1872.5 814.1,1874.3 814.1,1879.0 856.8,1884.1 814.1,1887.9 838.2,1889.5 814.1,1893.5 814.1,1893.5"/>
<polygon points="814.1,1863.8 814.1,1863.8 857.5,1868.5 857.5,1872.0 814.1,1874.3 814.1,1879.0 856.8,1884.1 814.1,1887.6 838.2,1889.5 814.1,1893.5 814.1,1927.5 833.5,1928.0 859.2,1933.1 830.0,1937.8 879.5,1940.1 879.5,1942.5 814.1,1946.7 814.1,1947.8 856.8,1951.3 856.8,1954.4 814.1,1954.8 814.1,1956.5 882.5,1960.7 814.1,1973.5 814.1,1988.7 856.8,1988.0 814.1,1991.0 902.3,1991.5 814.1,1993.8 814.1,1997.5 902.3,1999.2 924.5,2002.2 814.1,2003.8 814.1,2046.5 833.5,2048.2 833.5,2050.0 814.1,2052.1 814.1,2074.5 902.3,2075.0 902.3,2078.5 879.0,2083.6 814.1,2086.7 902.3,2090.4 814.1,2093.7 944.3,2098.8 944.3,2100.7 814.1,2101.1 924.5,2108.1 856.8,2112.8 924.5,2116.3 814.1,2117.0 814.1,2122.8 924.5,2125.9 814.1,2126.3 878.5,2128.2 814.1,2129.1 814.1,2135.2 878.5,2137.1 814.1,2139.9 879.0,2140.8 879.0,2145.5 814.1,2148.5 814.1,2148.5"/>
</g>
<polyline points="1076.2,177.5 1083.2,185.0 1088.5,195.5 1091.8,208.3 1089.5,222.3 1086.7,231.7 1083.9,241.0 1082.5,262.0 1081.5,264.3 1061.5,267.1 1062.2,277.2 1064.5,290.0 1064.5,332.0 1063.3,336.7 1063.8,383.3 1065.2,418.3 1066.1,453.3 1066.8,476.7 1069.2,500.0 1069.2,500.0 1071.5,518.7 1072.0,546.7 1070.3,565.3 1068.5,581.7 1066.8,593.3 1001.5,597.5 999.9,612.0 1000.3,686.7 1001.5,691.3 1037.7,695.3 1040.0,721.7 1042.3,745.0 1044.2,764.8 1043.5,826.7 1041.9,850.0 1041.9,850.0 1042.3,918.8 1009.2,924.7 1009.7,1006.3 1007.8,1011.0 1009.7,1015.7 1008.5,1036.7 1058.7,1039.5 1094.8,1043.7 1096.0,1069.3 1098.3,1092.7 1101.1,1113.7 1101.8,1141.7 1101.1,1176.7 1099.5,1200.0 1099.5,1200.0 1097.2,1223.3 1093.7,1250.2 992.2,1254.1 993.3,1270.0 992.2,1277.0 993.3,1284.0 993.3,1314.3 1041.2,1317.4 1045.8,1321.3 1047.0,1340.0 1048.2,1355.2 1048.2,1386.7 1049.3,1396.0 1048.2,1435.7 987.5,1440.3 986.8,1473.0 1044.7,1478.8 1045.1,1503.3 1045.8,1536.0 1047.5,1550.0 1047.5,1550.0 1045.8,1554.7 1043.5,1596.7 1041.2,1620.0 1039.5,1646.8 1035.3,1649.9 987.5,1653.1 986.8,1699.3 989.8,1702.8 1001.5,1705.9" fill="none" stroke="#cc2027" stroke-width="4.5" stroke-linejoin="round"/>
<rect x="142.2" y="172.7" width="6.7" height="1998.3" fill="#231f20"/>
<rect x="255.2" y="172.7" width="4.7" height="1998.3" fill="#231f20"/>
<rect x="142.2" y="172.7" width="117.7" height="6.2" fill="#231f20"/>
<rect x="142.2" y="2165" width="117.7" height="6" fill="#231f20"/>
<rect x="148" y="2074" width="107" height="8" fill="#231f20"/>
<rect x="272.1" y="173.3" width="88.9" height="1994.9" fill="none" stroke="#000" stroke-width="5.6" rx="2.2"/>
<rect x="373.8" y="172.8" width="89.2" height="1995.2" fill="none" stroke="#000" stroke-width="6.0" rx="2.2"/>
<rect x="485.05" y="175.05" width="135.4" height="1993.1" fill="none" stroke="#231f20" stroke-width="5.7" rx="0"/>
<rect x="651.35" y="175.05" width="135.3" height="1993.1" fill="none" stroke="#231f20" stroke-width="5.7" rx="0"/>
<rect x="811.15" y="173.85" width="135.7" height="1994.3" fill="none" stroke="#231f20" stroke-width="5.7" rx="0"/>
<rect x="971.65" y="173.85" width="136.0" height="1994.3" fill="none" stroke="#231f20" stroke-width="5.7" rx="0"/>
<g stroke="#231f20" stroke-width="1.6">
<line x1="651.3" y1="157.5" x2="651.3" y2="173"/>
<line x1="664.8" y1="162.8" x2="664.8" y2="173"/>
<line x1="678.3" y1="162.8" x2="678.3" y2="173"/>
<line x1="691.8" y1="162.8" x2="691.8" y2="173"/>
<line x1="705.3" y1="157.5" x2="705.3" y2="173"/>
<line x1="718.8" y1="162.8" x2="718.8" y2="173"/>
<line x1="732.2" y1="162.8" x2="732.2" y2="173"/>
<line x1="745.7" y1="162.8" x2="745.7" y2="173"/>
<line x1="759.2" y1="157.5" x2="759.2" y2="173"/>
<line x1="772.7" y1="162.8" x2="772.7" y2="173"/>
<line x1="786.2" y1="162.8" x2="786.2" y2="173"/>
<line x1="811.0" y1="157.5" x2="811.0" y2="172"/>
<line x1="833.6" y1="162.2" x2="833.6" y2="172"/>
<line x1="856.2" y1="157.5" x2="856.2" y2="172"/>
<line x1="878.9" y1="162.2" x2="878.9" y2="172"/>
<line x1="901.5" y1="157.5" x2="901.5" y2="172"/>
<line x1="924.1" y1="162.2" x2="924.1" y2="172"/>
<line x1="946.7" y1="157.5" x2="946.7" y2="172"/>
<line x1="971.6" y1="152.8" x2="971.6" y2="172"/>
<line x1="991.0" y1="161.2" x2="991.0" y2="172"/>
<line x1="1010.3" y1="152.8" x2="1010.3" y2="172"/>
<line x1="1029.7" y1="161.2" x2="1029.7" y2="172"/>
<line x1="1049.1" y1="152.8" x2="1049.1" y2="172"/>
<line x1="1068.5" y1="161.2" x2="1068.5" y2="172"/>
<line x1="1087.8" y1="152.8" x2="1087.8" y2="172"/>
<line x1="1107.2" y1="161.2" x2="1107.2" y2="172"/>
</g>
<rect x="1128" y="167.2" width="100" height="7.3" fill="#c2c3c7"/>
<rect x="1128" y="184.1" width="100" height="9.8" fill="#c2c3c7"/>
<rect x="1128" y="201.3" width="100" height="3.7" fill="#c2c3c7"/>
<rect x="1128" y="210.1" width="100" height="13.5" fill="#c2c3c7"/>
<rect x="1128" y="228.3" width="100" height="7.0" fill="#c2c3c7"/>
<rect x="1128" y="258.2" width="100" height="9.3" fill="#c2c3c7"/>
<rect x="1128" y="271.7" width="100" height="3.2" fill="#c2c3c7"/>
<rect x="1128" y="290.1" width="100" height="11.8" fill="#c2c3c7"/>
<rect x="1128" y="303.4" width="100" height="13.2" fill="#c2c3c7"/>
<rect x="1128" y="320.9" width="100" height="8.2" fill="#c2c3c7"/>
<rect x="1128" y="330.1" width="100" height="11.1" fill="#c2c3c7"/>
<rect x="1128" y="352.2" width="100" height="3.0" fill="#c2c3c7"/>
<rect x="1128" y="356.7" width="100" height="3.4" fill="#c2c3c7"/>
<rect x="1128" y="365.0" width="100" height="3.4" fill="#c2c3c7"/>
<rect x="1128" y="370.2" width="100" height="9.0" fill="#c2c3c7"/>
<rect x="1128" y="383.1" width="100" height="9.6" fill="#c2c3c7"/>
<rect x="1128" y="394.4" width="100" height="8.4" fill="#c2c3c7"/>
<rect x="1128" y="408.0" width="100" height="4.0" fill="#c2c3c7"/>
<rect x="1128" y="413.2" width="100" height="2.4" fill="#c2c3c7"/>
<rect x="1128" y="421.9" width="100" height="4.0" fill="#c2c3c7"/>
<rect x="1128" y="431.1" width="100" height="8.3" fill="#c2c3c7"/>
<rect x="1128" y="467.2" width="100" height="12.0" fill="#c2c3c7"/>
<rect x="1128" y="493.2" width="100" height="4.7" fill="#c2c3c7"/>
<rect x="1128" y="503.8" width="100" height="4.0" fill="#c2c3c7"/>
<rect x="1128" y="532.1" width="100" height="8.3" fill="#c2c3c7"/>
<rect x="1128" y="542.0" width="100" height="4.4" fill="#c2c3c7"/>
<rect x="1128" y="570.6" width="100" height="5.1" fill="#c2c3c7"/>
<rect x="1128" y="577.4" width="100" height="2.4" fill="#c2c3c7"/>
<rect x="1128" y="617.5" width="100" height="11.6" fill="#c2c3c7"/>
<rect x="1128" y="691.1" width="100" height="9.9" fill="#c2c3c7"/>
<rect x="1128" y="702.6" width="100" height="10.3" fill="#c2c3c7"/>
<rect x="1128" y="714.0" width="100" height="8.0" fill="#c2c3c7"/>
<rect x="1128" y="729.3" width="100" height="3.5" fill="#c2c3c7"/>
<rect x="1128" y="741.2" width="100" height="18.8" fill="#c2c3c7"/>
<rect x="1128" y="759.8" width="100" height="6.3" fill="#c2c3c7"/>
<rect x="1128" y="784.9" width="100" height="12.7" fill="#c2c3c7"/>
<rect x="1128" y="799.0" width="100" height="70.5" fill="#c2c3c7"/>
<rect x="1128" y="873.8" width="100" height="36.7" fill="#c2c3c7"/>
<rect x="1128" y="948.7" width="100" height="3.2" fill="#c2c3c7"/>
<rect x="1128" y="954.1" width="100" height="39.7" fill="#c2c3c7"/>
<rect x="1128" y="997.0" width="100" height="3.7" fill="#c2c3c7"/>
<rect x="1128" y="1037.7" width="100" height="22.9" fill="#c2c3c7"/>
<rect x="1128" y="1065.1" width="100" height="13.5" fill="#c2c3c7"/>
<rect x="1128" y="1080.7" width="100" height="24.3" fill="#c2c3c7"/>
<rect x="1128" y="1106.4" width="100" height="8.2" fill="#c2c3c7"/>
<rect x="1128" y="1119.1" width="100" height="52.1" fill="#c2c3c7"/>
<rect x="1128" y="1175.9" width="100" height="30.3" fill="#c2c3c7"/>
<rect x="1128" y="1216.6" width="100" height="26.5" fill="#c2c3c7"/>
<rect x="1128" y="1315.5" width="100" height="99.4" fill="#c2c3c7"/>
<rect x="1128" y="1424.4" width="100" height="3.5" fill="#c2c3c7"/>
<rect x="1128" y="1479.2" width="100" height="48.2" fill="#c2c3c7"/>
<rect x="1128" y="1573.8" width="100" height="3.2" fill="#c2c3c7"/>
<rect x="1128" y="1584.1" width="100" height="4.0" fill="#c2c3c7"/>
<rect x="1128" y="1596.9" width="100" height="28.9" fill="#c2c3c7"/>
<rect x="1128" y="1636.3" width="100" height="14.6" fill="#c2c3c7"/>
<rect x="1128" y="1659.2" width="100" height="1.7" fill="#c2c3c7"/>
<rect x="1128" y="1664.9" width="100" height="3.0" fill="#c2c3c7"/>
<rect x="1128" y="1704.2" width="100" height="8.3" fill="#c2c3c7"/>
<rect x="1128" y="1728.1" width="100" height="24.1" fill="#c2c3c7"/>
<rect x="1128" y="1769.1" width="100" height="3.8" fill="#c2c3c7"/>
<rect x="1128" y="1792.5" width="100" height="2.5" fill="#c2c3c7"/>
<rect x="1128" y="1792.4" width="100" height="23.4" fill="#c2c3c7"/>
<rect x="1128" y="1861.2" width="100" height="7.0" fill="#c2c3c7"/>
<rect x="1128" y="1872.2" width="100" height="7.2" fill="#c2c3c7"/>
<rect x="1128" y="1883.8" width="100" height="18.3" fill="#c2c3c7"/>
<rect x="1128" y="1905.3" width="100" height="3.6" fill="#c2c3c7"/>
<rect x="1128" y="1913.2" width="100" height="3.5" fill="#c2c3c7"/>
<rect x="1128" y="1919.1" width="100" height="48.7" fill="#c2c3c7"/>
<rect x="1128" y="1974.1" width="100" height="6.7" fill="#c2c3c7"/>
<rect x="1128" y="1988.3" width="100" height="4.0" fill="#c2c3c7"/>
<rect x="1128" y="2016.9" width="100" height="6.9" fill="#c2c3c7"/>
<rect x="1128" y="2028.0" width="100" height="4.0" fill="#c2c3c7"/>
<rect x="1128" y="2044.9" width="100" height="3.8" fill="#c2c3c7"/>
<rect x="1128" y="2051.1" width="100" height="8.8" fill="#c2c3c7"/>
<rect x="1128" y="2065.1" width="100" height="8.0" fill="#c2c3c7"/>
<rect x="1128" y="2076.2" width="100" height="4.0" fill="#c2c3c7"/>
<rect x="1128" y="254.9" width="100" height="3.3" fill="#c2e0c0"/>
<rect x="1128" y="450.2" width="100" height="11.5" fill="#c2e0c0"/>
<rect x="1128" y="463.3" width="100" height="3.9" fill="#c2e0c0"/>
<rect x="1128" y="489.0" width="100" height="3.2" fill="#c2e0c0"/>
<rect x="1128" y="507.8" width="100" height="21.8" fill="#c2e0c0"/>
<rect x="1128" y="579.8" width="100" height="4.3" fill="#c2e0c0"/>
<rect x="1128" y="589.7" width="100" height="1.9" fill="#c2e0c0"/>
<rect x="1128" y="629.1" width="100" height="10.7" fill="#c2e0c0"/>
<rect x="1128" y="910.5" width="100" height="5.4" fill="#c2e0c0"/>
<rect x="1128" y="925.9" width="100" height="4.3" fill="#c2e0c0"/>
<rect x="1128" y="944.2" width="100" height="4.5" fill="#c2e0c0"/>
<rect x="1128" y="1000.7" width="100" height="8.7" fill="#c2e0c0"/>
<rect x="1128" y="1033.3" width="100" height="4.4" fill="#c2e0c0"/>
<rect x="1128" y="1206.2" width="100" height="5.9" fill="#c2e0c0"/>
<rect x="1128" y="1243.1" width="100" height="4.8" fill="#c2e0c0"/>
<rect x="1128" y="1427.9" width="100" height="4.8" fill="#c2e0c0"/>
<rect x="1128" y="1667.9" width="100" height="2.9" fill="#c2e0c0"/>
<rect x="1128" y="1695.8" width="100" height="4.1" fill="#c2e0c0"/>
<rect x="1128" y="1712.5" width="100" height="3.1" fill="#c2e0c0"/>
<rect x="1128" y="1724.1" width="100" height="4.0" fill="#c2e0c0"/>
<rect x="1128" y="1752.2" width="100" height="3.7" fill="#c2e0c0"/>
<rect x="1128" y="1761.9" width="100" height="3.5" fill="#c2e0c0"/>
<rect x="1128" y="1772.9" width="100" height="4.4" fill="#c2e0c0"/>
<rect x="1128" y="1820.2" width="100" height="3.7" fill="#c2e0c0"/>
<rect x="1128" y="1830.5" width="100" height="6.7" fill="#c2e0c0"/>
<rect x="1128" y="1841.2" width="100" height="2.5" fill="#c2e0c0"/>
<rect x="1128" y="1992.3" width="100" height="4.4" fill="#c2e0c0"/>
<rect x="1128" y="1432.7" width="100" height="4.1" fill="#e0dcb8"/>
<rect x="1128" y="1473.9" width="100" height="5.3" fill="#e0dcb8"/>
<rect x="1128" y="1715.6" width="100" height="8.5" fill="#e0dcb8"/>
<rect x="1128" y="2007.1" width="100" height="4.4" fill="#e0dcb8"/>
<rect x="1128" y="2032.0" width="100" height="4.2" fill="#e0dcb8"/>
<rect x="1128" y="2080.2" width="100" height="1.6" fill="#e0dcb8"/>
<rect x="1128" y="2085.0" width="100" height="7.9" fill="#e0dcb8"/>
<rect x="1128" y="2096.1" width="100" height="13.2" fill="#e0dcb8"/>
<rect x="1128" y="2114.4" width="100" height="8.7" fill="#e0dcb8"/>
<rect x="1128" y="2133.0" width="100" height="7.8" fill="#e0dcb8"/>
<rect x="1128" y="2147.2" width="100" height="8.2" fill="#e0dcb8"/>
<rect x="1128" y="164.1" width="100" height="2.8" fill="#2b2d0b"/>
<rect x="1128" y="197.0" width="100" height="3.9" fill="#2b2d0b"/>
<rect x="1128" y="223.9" width="100" height="4.0" fill="#2b2d0b"/>
<rect x="1128" y="235.3" width="100" height="8.2" fill="#2b2d0b"/>
<rect x="1128" y="250.2" width="100" height="4.5" fill="#2b2d0b"/>
<rect x="1128" y="262.0" width="100" height="0.6" fill="#2b2d0b"/>
<rect x="1128" y="267.8" width="100" height="3.7" fill="#2b2d0b"/>
<rect x="1128" y="274.9" width="100" height="1.0" fill="#2b2d0b"/>
<rect x="1128" y="277.1" width="100" height="7.3" fill="#2b2d0b"/>
<rect x="1128" y="341.2" width="100" height="0.6" fill="#2b2d0b"/>
<rect x="1128" y="343.3" width="100" height="8.5" fill="#2b2d0b"/>
<rect x="1128" y="439.7" width="100" height="8.9" fill="#2b2d0b"/>
<rect x="1128" y="479.5" width="100" height="3.3" fill="#2b2d0b"/>
<rect x="1128" y="485.1" width="100" height="3.9" fill="#2b2d0b"/>
<rect x="1128" y="499.1" width="100" height="4.2" fill="#2b2d0b"/>
<rect x="1128" y="511.1" width="100" height="0.5" fill="#2b2d0b"/>
<rect x="1128" y="519.4" width="100" height="0.5" fill="#2b2d0b"/>
<rect x="1128" y="548.0" width="100" height="9.9" fill="#2b2d0b"/>
<rect x="1128" y="566.2" width="100" height="4.1" fill="#2b2d0b"/>
<rect x="1128" y="591.6" width="100" height="2.5" fill="#2b2d0b"/>
<rect x="1128" y="597.3" width="100" height="6.4" fill="#2b2d0b"/>
<rect x="1128" y="608.8" width="100" height="8.4" fill="#2b2d0b"/>
<rect x="1128" y="640.1" width="100" height="13.7" fill="#2b2d0b"/>
<rect x="1128" y="657.3" width="100" height="20.3" fill="#2b2d0b"/>
<rect x="1128" y="679.9" width="100" height="4.7" fill="#2b2d0b"/>
<rect x="1128" y="722.2" width="100" height="7.1" fill="#2b2d0b"/>
<rect x="1128" y="736.5" width="100" height="4.6" fill="#2b2d0b"/>
<rect x="1128" y="778.9" width="100" height="3.9" fill="#2b2d0b"/>
<rect x="1128" y="869.5" width="100" height="4.3" fill="#2b2d0b"/>
<rect x="1128" y="915.9" width="100" height="10.0" fill="#2b2d0b"/>
<rect x="1128" y="934.7" width="100" height="5.2" fill="#2b2d0b"/>
<rect x="1128" y="1009.4" width="100" height="12.4" fill="#2b2d0b"/>
<rect x="1128" y="1025.0" width="100" height="8.3" fill="#2b2d0b"/>
<rect x="1128" y="1060.6" width="100" height="4.5" fill="#2b2d0b"/>
<rect x="1128" y="1114.6" width="100" height="4.5" fill="#2b2d0b"/>
<rect x="1128" y="1247.9" width="100" height="7.9" fill="#2b2d0b"/>
<rect x="1128" y="1257.7" width="100" height="51.9" fill="#2b2d0b"/>
<rect x="1128" y="1311.2" width="100" height="4.3" fill="#2b2d0b"/>
<rect x="1128" y="1436.8" width="100" height="13.2" fill="#2b2d0b"/>
<rect x="1128" y="1449.0" width="100" height="2.0" fill="#2b2d0b"/>
<rect x="1128" y="1460.9" width="100" height="13.0" fill="#2b2d0b"/>
<rect x="1128" y="1527.4" width="100" height="7.0" fill="#2b2d0b"/>
<rect x="1128" y="1588.1" width="100" height="8.8" fill="#2b2d0b"/>
<rect x="1128" y="1650.9" width="100" height="4.0" fill="#2b2d0b"/>
<rect x="1128" y="1670.8" width="100" height="1.1" fill="#2b2d0b"/>
<rect x="1128" y="1677.2" width="100" height="18.6" fill="#2b2d0b"/>
<rect x="1128" y="1699.9" width="100" height="4.3" fill="#2b2d0b"/>
<rect x="1128" y="1787.7" width="100" height="4.3" fill="#2b2d0b"/>
<rect x="1128" y="1837.2" width="100" height="4.0" fill="#2b2d0b"/>
<rect x="1128" y="1846.9" width="100" height="4.0" fill="#2b2d0b"/>
<rect x="1128" y="1908.9" width="100" height="4.3" fill="#2b2d0b"/>
<rect x="1128" y="1996.7" width="100" height="2.1" fill="#2b2d0b"/>
<rect x="1128" y="175.2" width="127.6" height="4.6" fill="#8c6238"/>
<rect x="1128" y="263.3" width="127.6" height="0.4" fill="#8c6238"/>
<rect x="1128" y="316.6" width="127.6" height="4.3" fill="#8c6238"/>
<rect x="1128" y="360.2" width="127.6" height="4.5" fill="#8c6238"/>
<rect x="1128" y="403.0" width="127.6" height="4.1" fill="#8c6238"/>
<rect x="1128" y="417.5" width="127.6" height="4.4" fill="#8c6238"/>
<rect x="1128" y="425.9" width="127.6" height="3.5" fill="#8c6238"/>
<rect x="1128" y="560.0" width="127.6" height="4.6" fill="#8c6238"/>
<rect x="1128" y="586.0" width="127.6" height="3.7" fill="#8c6238"/>
<rect x="1128" y="930.2" width="127.6" height="4.5" fill="#8c6238"/>
<rect x="1128" y="939.9" width="127.6" height="4.3" fill="#8c6238"/>
<rect x="1128" y="981.1" width="127.6" height="1.3" fill="#8c6238"/>
<rect x="1128" y="1171.2" width="127.6" height="4.7" fill="#8c6238"/>
<rect x="1128" y="1414.9" width="127.6" height="3.9" fill="#8c6238"/>
<rect x="1128" y="1419.6" width="127.6" height="4.8" fill="#8c6238"/>
<rect x="1128" y="1534.8" width="127.6" height="3.2" fill="#8c6238"/>
<rect x="1128" y="1816.2" width="127.6" height="4.0" fill="#8c6238"/>
<rect x="1128" y="1932.0" width="127.6" height="1.1" fill="#8c6238"/>
<rect x="1128" y="2036.2" width="127.6" height="8.7" fill="#8c6238"/>
<rect x="1128" y="2123.1" width="141" height="1.2" fill="#e3b9b9"/>
<rect x="1128" y="1284.5" width="141" height="4.4" fill="#7b1315"/>
<rect x="1128" y="1543.1" width="141" height="30.7" fill="#7b1315"/>
<rect x="1128" y="1654.9" width="141" height="4.3" fill="#7b1315"/>
<rect x="1128" y="1757.9" width="141" height="4.0" fill="#7b1315"/>
<rect x="1128" y="1777.3" width="141" height="2.6" fill="#7b1315"/>
<rect x="1128" y="1783.7" width="141" height="4.0" fill="#7b1315"/>
<rect x="1128" y="1826.3" width="141" height="3.8" fill="#7b1315"/>
<rect x="1128" y="1850.9" width="141" height="2.7" fill="#7b1315"/>
<rect x="1128" y="1902.1" width="141" height="3.2" fill="#7b1315"/>
<rect x="1128" y="2002.6" width="141" height="4.5" fill="#7b1315"/>
<rect x="1128" y="2126.8" width="141" height="5.9" fill="#7b1315"/>
<rect x="1128" y="2141.0" width="141" height="4.8" fill="#7b1315"/>
<line x1="153.3" y1="266" x2="355" y2="266" stroke="#77787b" stroke-width="8.8" stroke-dasharray="4.7 5.2"/>
<line x1="153.3" y1="594" x2="355" y2="594" stroke="#77787b" stroke-width="8.8" stroke-dasharray="4.7 5.2"/>
<line x1="153.3" y1="692.7" x2="355" y2="692.7" stroke="#77787b" stroke-width="8.8" stroke-dasharray="4.7 5.2"/>
<line x1="153.3" y1="1256.7" x2="355" y2="1256.7" stroke="#77787b" stroke-width="8.8" stroke-dasharray="4.7 5.2"/>
<line x1="153.3" y1="1321" x2="355" y2="1321" stroke="#77787b" stroke-width="8.8" stroke-dasharray="4.7 5.2"/>
<line x1="153.3" y1="1442.7" x2="355" y2="1442.7" stroke="#77787b" stroke-width="8.8" stroke-dasharray="4.7 5.2"/>
<line x1="153.3" y1="1480" x2="355" y2="1480" stroke="#77787b" stroke-width="8.8" stroke-dasharray="4.7 5.2"/>
<line x1="153.3" y1="1655" x2="355" y2="1655" stroke="#77787b" stroke-width="8.8" stroke-dasharray="4.7 5.2"/>
<line x1="153.3" y1="1707.7" x2="355" y2="1707.7" stroke="#77787b" stroke-width="8.8" stroke-dasharray="4.7 5.2"/>
<line x1="146.5" y1="923.3" x2="355" y2="923.3" stroke="#77787b" stroke-width="8.8" stroke-dasharray="4.7 5.2"/>
<line x1="153.3" y1="1038" x2="358" y2="1038" stroke="#77787b" stroke-width="8.8" stroke-dasharray="4.7 5.2"/>
<text x="152.7" y="294" font-size="21.5" text-anchor="start" fill="#808285" textLength="21.6" lengthAdjust="spacingAndGlyphs" >13</text>
<text x="151.7" y="619.3" font-size="21.5" text-anchor="start" fill="#808285" textLength="21.6" lengthAdjust="spacingAndGlyphs" >70</text>
<text x="151.7" y="721.7" font-size="21.5" text-anchor="start" fill="#808285" textLength="36" lengthAdjust="spacingAndGlyphs" >129</text>
<text x="151.7" y="952.7" font-size="21.5" text-anchor="start" fill="#808285" textLength="36" lengthAdjust="spacingAndGlyphs" >188</text>
<text x="151.7" y="1068.3" font-size="21.5" text-anchor="start" fill="#808285" textLength="36" lengthAdjust="spacingAndGlyphs" >245</text>
<text x="155" y="1245.7" font-size="21.5" text-anchor="start" fill="#808285" textLength="36" lengthAdjust="spacingAndGlyphs" >276</text>
<text x="151.7" y="1346" font-size="21.5" text-anchor="start" fill="#808285" textLength="36" lengthAdjust="spacingAndGlyphs" >335</text>
<text x="151.7" y="1462.7" font-size="21.5" text-anchor="start" fill="#808285" textLength="36" lengthAdjust="spacingAndGlyphs" >366</text>
<text x="151.7" y="1505" font-size="21.5" text-anchor="start" fill="#808285" textLength="36" lengthAdjust="spacingAndGlyphs" >420</text>
<text x="151.7" y="1680.7" font-size="21.5" text-anchor="start" fill="#808285" textLength="36" lengthAdjust="spacingAndGlyphs" >467</text>
<text x="151.7" y="1732.7" font-size="21.5" text-anchor="start" fill="#808285" textLength="36" lengthAdjust="spacingAndGlyphs" >535</text>
<text x="186.7" y="401.7" font-size="22" text-anchor="middle" fill="#000" textLength="64.3" lengthAdjust="spacingAndGlyphs" >E.Hux/</text>
<text x="186.7" y="431" font-size="22" text-anchor="middle" fill="#000" textLength="33.3" lengthAdjust="spacingAndGlyphs" >Gp.</text>
<text x="186.7" y="460" font-size="22" text-anchor="middle" fill="#000" textLength="50" lengthAdjust="spacingAndGlyphs" >cross</text>
<text x="186.7" y="489" font-size="22" text-anchor="middle" fill="#000" textLength="44" lengthAdjust="spacingAndGlyphs" >over</text>
<text x="186.7" y="518.3" font-size="22" text-anchor="middle" fill="#000" textLength="51.7" lengthAdjust="spacingAndGlyphs" >(~70)</text>
<line x1="237" y1="280" x2="237" y2="575" stroke="#000" stroke-width="4.3"/>
<polygon points="237,268.3 225.5,288.3 237,282.3 248.5,288.3" fill="#000"/>
<polygon points="237,586.7 225.5,566.7 237,572.7 248.5,566.7" fill="#000"/>
<polygon points="251.4,1311.2 240.71,1314.91 240.48,1326.23 233.65,1317.21 222.82,1320.49 229.28,1311.2 222.82,1301.91 233.65,1305.19 240.48,1296.17 240.71,1307.49" fill="#231f20"/>
<polygon points="251.7,1572.3 241.22,1575.94 240.99,1587.04 234.28,1578.2 223.66,1581.41 230.0,1572.3 223.66,1563.19 234.28,1566.4 240.99,1557.56 241.22,1568.66" fill="#231f20"/>
<line x1="65.7" y1="1258.4" x2="211.5" y2="1299.8" stroke="#231f20" stroke-width="3"/>
<g stroke="#231f20" stroke-width="2.8">
<line x1="237" y1="1331.3" x2="237" y2="1424"/>
<line x1="237.1" y1="1486" x2="237.1" y2="1555.2"/>
<line x1="237.1" y1="1589.4" x2="237.1" y2="1672"/>
</g>
<polyline points="229.4,1405.8 237,1426.5 244.6,1405.8" fill="none" stroke="#231f20" stroke-width="2.6" stroke-linejoin="miter" stroke-miterlimit="10"/>
<polyline points="229.5,1504.1000000000001 237.1,1483.4 244.7,1504.1000000000001" fill="none" stroke="#231f20" stroke-width="2.6" stroke-linejoin="miter" stroke-miterlimit="10"/>
<polyline points="229.5,1654.0 237.1,1674.7 244.7,1654.0" fill="none" stroke="#231f20" stroke-width="2.6" stroke-linejoin="miter" stroke-miterlimit="10"/>
<text x="12.2" y="1213.4" font-size="21.5" text-anchor="start" fill="#000" textLength="26.5" lengthAdjust="spacingAndGlyphs" >FO</text>
<text x="0.5" y="1243.1" font-size="21.5" text-anchor="start" fill="#000" textLength="54.4" lengthAdjust="spacingAndGlyphs" >E.Hux</text>
<text x="4" y="1272.8" font-size="21.5" text-anchor="start" fill="#000" textLength="49.6" lengthAdjust="spacingAndGlyphs" >(290)</text>
<text x="155.2" y="1565.5" font-size="21.5" text-anchor="start" fill="#000" textLength="51.3" lengthAdjust="spacingAndGlyphs" >P.Lac</text>
<text x="157.9" y="1595.2" font-size="21.5" text-anchor="start" fill="#000" textLength="50" lengthAdjust="spacingAndGlyphs" >(430)</text>
<text x="198.7" y="2066" font-size="21.5" text-anchor="middle" fill="#000" textLength="39" lengthAdjust="spacingAndGlyphs" >B-M</text>
<text x="198.7" y="2107.6" font-size="21.5" text-anchor="middle" fill="#000" textLength="35.7" lengthAdjust="spacingAndGlyphs" >773</text>
<text x="316" y="228.5" font-size="25.5" text-anchor="middle" fill="#000" >1</text>
<text x="311.7" y="430.2" font-size="25.5" text-anchor="middle" fill="#000" textLength="38.5" lengthAdjust="spacingAndGlyphs" >2-4</text>
<text x="316" y="650.5" font-size="25.5" text-anchor="middle" fill="#000" >5</text>
<text x="316" y="815.2" font-size="25.5" text-anchor="middle" fill="#000" >6</text>
<text x="316" y="985.2" font-size="25.5" text-anchor="middle" fill="#000" >7</text>
<text x="316" y="1153.5" font-size="25.5" text-anchor="middle" fill="#000" >8</text>
<text x="316" y="1293.5" font-size="25.5" text-anchor="middle" fill="#000" >9</text>
<text x="314" y="1386.8" font-size="25.5" text-anchor="middle" fill="#000" textLength="26.5" lengthAdjust="spacingAndGlyphs" >10</text>
<text x="313" y="1467.8" font-size="25.5" text-anchor="middle" fill="#000" textLength="26.5" lengthAdjust="spacingAndGlyphs" >11</text>
<text x="314" y="1580.2" font-size="25.5" text-anchor="middle" fill="#000" textLength="26.5" lengthAdjust="spacingAndGlyphs" >12</text>
<text x="314" y="1689.2" font-size="25.5" text-anchor="middle" fill="#000" textLength="26.5" lengthAdjust="spacingAndGlyphs" >13</text>
<text x="419" y="228.5" font-size="25.5" text-anchor="middle" fill="#000" textLength="32.3" lengthAdjust="spacingAndGlyphs" >1-1</text>
<text x="419" y="430.2" font-size="25.5" text-anchor="middle" fill="#000" textLength="33.5" lengthAdjust="spacingAndGlyphs" >1-2</text>
<text x="419" y="650.5" font-size="25.5" text-anchor="middle" fill="#000" textLength="33.5" lengthAdjust="spacingAndGlyphs" >1-3</text>
<text x="419" y="815.2" font-size="25.5" text-anchor="middle" fill="#000" textLength="33.5" lengthAdjust="spacingAndGlyphs" >1-4</text>
<text x="419" y="985.2" font-size="25.5" text-anchor="middle" fill="#000" textLength="33.5" lengthAdjust="spacingAndGlyphs" >1-5</text>
<text x="419" y="1153.5" font-size="25.5" text-anchor="middle" fill="#000" textLength="33.5" lengthAdjust="spacingAndGlyphs" >1-6</text>
<text x="419" y="1293.5" font-size="25.5" text-anchor="middle" fill="#000" textLength="33.5" lengthAdjust="spacingAndGlyphs" >1-7</text>
<text x="419" y="1386.8" font-size="25.5" text-anchor="middle" fill="#000" textLength="33.5" lengthAdjust="spacingAndGlyphs" >1-8</text>
<text x="419" y="1467.8" font-size="25.5" text-anchor="middle" fill="#000" textLength="33.5" lengthAdjust="spacingAndGlyphs" >1-9</text>
<text x="419" y="1518.5" font-size="25.5" text-anchor="middle" fill="#000" textLength="51.7" lengthAdjust="spacingAndGlyphs" >1-10</text>
<text x="419" y="1580.2" font-size="25.5" text-anchor="middle" fill="#000" textLength="51.7" lengthAdjust="spacingAndGlyphs" >1-11</text>
<text x="419" y="1637.5" font-size="25.5" text-anchor="middle" fill="#000" textLength="51.7" lengthAdjust="spacingAndGlyphs" >1-12</text>
<text x="419" y="1689.2" font-size="25.5" text-anchor="middle" fill="#000" textLength="51.7" lengthAdjust="spacingAndGlyphs" >1-13</text>
<text x="419" y="1773.5" font-size="25.5" text-anchor="middle" fill="#000" textLength="51.7" lengthAdjust="spacingAndGlyphs" >1-14</text>
<text x="419" y="1923.5" font-size="25.5" text-anchor="middle" fill="#000" textLength="51.7" lengthAdjust="spacingAndGlyphs" >1-15</text>
<text x="419" y="2036.8" font-size="25.5" text-anchor="middle" fill="#000" textLength="51.7" lengthAdjust="spacingAndGlyphs" >1-16</text>
<text x="419" y="2133.5" font-size="25.5" text-anchor="middle" fill="#000" textLength="33.5" lengthAdjust="spacingAndGlyphs" >2-1</text>
<text x="200.7" y="67.7" font-size="22.5" text-anchor="middle" fill="#000" textLength="39.7" lengthAdjust="spacingAndGlyphs" >Age</text>
<text x="200.7" y="96.4" font-size="22.5" text-anchor="middle" fill="#000" textLength="35.5" lengthAdjust="spacingAndGlyphs" >(ka)</text>
<text x="303.6" y="67.7" font-size="22.5" text-anchor="middle" fill="#000" textLength="77.5" lengthAdjust="spacingAndGlyphs" >Oxygen</text>
<text x="304.5" y="96.4" font-size="22.5" text-anchor="middle" fill="#000" textLength="75.5" lengthAdjust="spacingAndGlyphs" >Isotope</text>
<text x="303.5" y="125.3" font-size="22.5" text-anchor="middle" fill="#000" textLength="56.5" lengthAdjust="spacingAndGlyphs" >Stage</text>
<text x="415.1" y="67.7" font-size="22.5" text-anchor="middle" fill="#000" textLength="37.3" lengthAdjust="spacingAndGlyphs" >Lith</text>
<text x="414.7" y="96.4" font-size="22.5" text-anchor="middle" fill="#000" textLength="55" lengthAdjust="spacingAndGlyphs" >Unit -</text>
<text x="414.4" y="125.3" font-size="22.5" text-anchor="middle" fill="#000" textLength="78.9" lengthAdjust="spacingAndGlyphs" >Subunit</text>
<text x="553.3" y="16.8" font-size="22.5" text-anchor="middle" fill="#2e2a7c" textLength="150.3" lengthAdjust="spacingAndGlyphs" >benthic forams</text>
<text x="484.5" y="39.2" font-size="22.5" text-anchor="start" fill="#2e2a7c" >0</text>
<text x="624.5" y="39.2" font-size="22.5" text-anchor="end" fill="#2e2a7c" textLength="36.5" lengthAdjust="spacingAndGlyphs" >500</text>
<text x="553.3" y="69.5" font-size="22.5" text-anchor="middle" fill="#4a5fb0" textLength="125.1" lengthAdjust="spacingAndGlyphs" >nannofossils</text>
<text x="484.5" y="96.8" font-size="22.5" text-anchor="start" fill="#4a5fb0" >0</text>
<text x="623.3" y="96.8" font-size="22.5" text-anchor="end" fill="#4a5fb0" textLength="60.6" lengthAdjust="spacingAndGlyphs" >15000</text>
<text x="553.3" y="123.7" font-size="22.5" text-anchor="middle" fill="#009444" textLength="117.6" lengthAdjust="spacingAndGlyphs" >non-marine</text>
<text x="553" y="152.8" font-size="22.5" text-anchor="middle" fill="#009444" textLength="81" lengthAdjust="spacingAndGlyphs" >diatoms</text>
<text x="484.5" y="164.5" font-size="22.5" text-anchor="start" fill="#009444" >0</text>
<text x="624.5" y="164.5" font-size="22.5" text-anchor="end" fill="#009444" textLength="23.3" lengthAdjust="spacingAndGlyphs" >60</text>
<text x="707.9" y="67.2" font-size="22.5" text-anchor="middle" fill="#000" textLength="99.2" lengthAdjust="spacingAndGlyphs" >Estimated</text>
<text x="709.1" y="95.7" font-size="22.5" text-anchor="middle" fill="#000" textLength="85.2" lengthAdjust="spacingAndGlyphs" >sand (%)</text>
<text x="651" y="145.8" font-size="22.5" text-anchor="middle" fill="#000" >0</text>
<text x="709.7" y="145.8" font-size="22.5" text-anchor="middle" fill="#000" textLength="23.3" lengthAdjust="spacingAndGlyphs" >20</text>
<text x="763.1" y="145.8" font-size="22.5" text-anchor="middle" fill="#000" textLength="23.3" lengthAdjust="spacingAndGlyphs" >40</text>
<text x="879.4" y="67.1" font-size="22.5" text-anchor="middle" fill="#000" textLength="126" lengthAdjust="spacingAndGlyphs" >Bioturbation</text>
<text x="809.5" y="145.4" font-size="22.5" text-anchor="middle" fill="#000" >0</text>
<text x="860.5" y="145.4" font-size="22.5" text-anchor="middle" fill="#000" >2</text>
<text x="905.5" y="145.4" font-size="22.5" text-anchor="middle" fill="#000" >4</text>
<text x="949" y="145.4" font-size="22.5" text-anchor="middle" fill="#000" >6</text>
<text x="1036" y="67.1" font-size="22.5" text-anchor="middle" fill="#000" textLength="148.8" lengthAdjust="spacingAndGlyphs" >Sedimentation</text>
<text x="1036.3" y="96.5" font-size="22.5" text-anchor="middle" fill="#000" textLength="125.4" lengthAdjust="spacingAndGlyphs" >rate (mm/yr)</text>
<text x="968.5" y="145.4" font-size="22.5" text-anchor="middle" fill="#000" >0</text>
<text x="1012" y="145.4" font-size="22.5" text-anchor="middle" fill="#000" >1</text>
<text x="1048.6" y="145.4" font-size="22.5" text-anchor="middle" fill="#000" >2</text>
<text x="1084.9" y="145.4" font-size="22.5" text-anchor="middle" fill="#000" >3</text>
<text x="1177.6" y="67.1" font-size="22.5" text-anchor="middle" fill="#000" textLength="96" lengthAdjust="spacingAndGlyphs" >Sediment</text>
<text x="1175.5" y="96.5" font-size="22.5" text-anchor="middle" fill="#000" textLength="60" lengthAdjust="spacingAndGlyphs" >Facies</text>
<rect x="1307.9" y="161.8" width="25" height="25" fill="#2b2d0b"/>
<text x="1348.2" y="182.2" font-size="22.5" text-anchor="start" fill="#000" textLength="97.4" lengthAdjust="spacingAndGlyphs" >FA 1, FA 6</text>
<rect x="1307.9" y="213.4" width="25" height="25" fill="#c2e0c0"/>
<text x="1348.2" y="233.8" font-size="22.5" text-anchor="start" fill="#000" textLength="42.1" lengthAdjust="spacingAndGlyphs" >FA 3</text>
<rect x="1307.9" y="264" width="25" height="25" fill="#c0c1c6"/>
<text x="1348.2" y="284.7" font-size="22.5" text-anchor="start" fill="#000" textLength="153" lengthAdjust="spacingAndGlyphs" >FA 5, FA 2, FA 4</text>
<rect x="1307.9" y="315.7" width="25" height="25" fill="#8c6238"/>
<text x="1352.8" y="336" font-size="22.5" text-anchor="start" fill="#000" textLength="123.1" lengthAdjust="spacingAndGlyphs" >FA 11, FA 10</text>
<rect x="1307.9" y="364.7" width="25" height="25" fill="#7b1315"/>
<text x="1352.8" y="385" font-size="22.5" text-anchor="start" fill="#000" textLength="55.3" lengthAdjust="spacingAndGlyphs" >FA 13</text>
<rect x="1307.9" y="416" width="25" height="25" fill="#e0dcb8"/>
<text x="1352.8" y="436.2" font-size="22.5" text-anchor="start" fill="#000" textLength="55.7" lengthAdjust="spacingAndGlyphs" >FA 12</text>
<text x="206.7" y="2199.3" font-size="20.5" text-anchor="middle" fill="#000" >A</text>
<text x="311.7" y="2199.3" font-size="20.5" text-anchor="middle" fill="#000" >B</text>
<text x="417.7" y="2199.3" font-size="20.5" text-anchor="middle" fill="#000" >C</text>
<text x="548.7" y="2199.3" font-size="20.5" text-anchor="middle" fill="#000" >D</text>
<text x="720.9" y="2199.3" font-size="20.5" text-anchor="middle" fill="#000" >E</text>
<text x="884.1" y="2199.3" font-size="20.5" text-anchor="middle" fill="#000" >F</text>
<text x="1035.3" y="2199.3" font-size="20.5" text-anchor="middle" fill="#000" >G</text>
<text x="1176.2" y="2191" font-size="20.5" text-anchor="middle" fill="#000" >H</text>
</svg>
</body></html>
